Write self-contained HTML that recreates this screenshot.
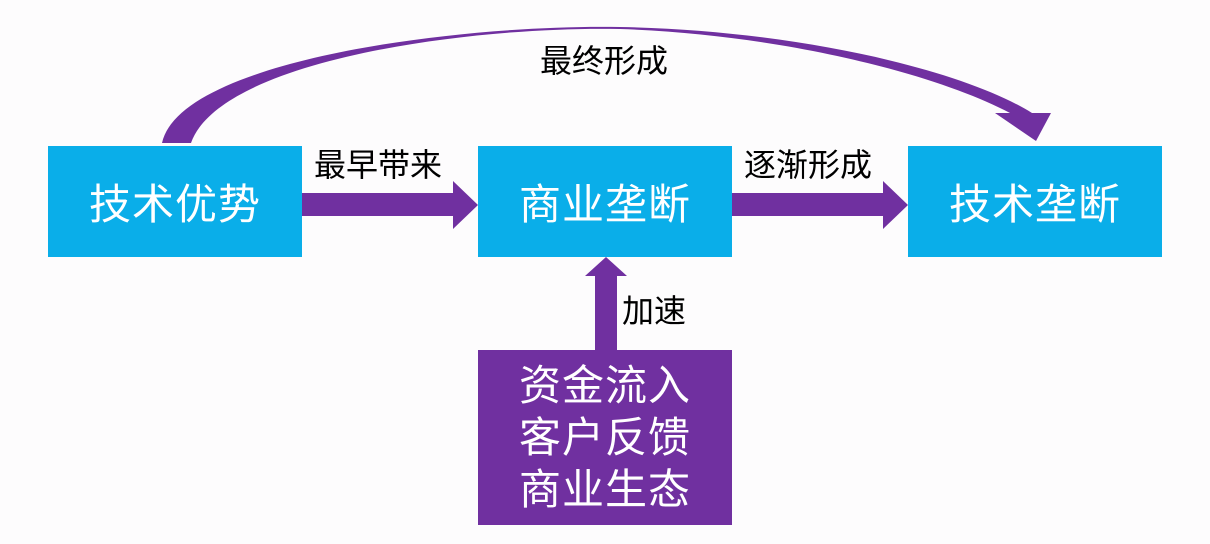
<!DOCTYPE html>
<html><head><meta charset="utf-8"><style>
body{margin:0;width:1210px;height:544px;background:#fdfcfd;overflow:hidden;position:relative;font-family:"Liberation Sans","Noto Sans CJK SC",sans-serif}
.b{position:absolute;background:#0aaee9;color:#fff;font-size:42px;display:flex;align-items:center;justify-content:center;letter-spacing:1px}
.l{position:absolute;font-size:32px;color:#000;white-space:nowrap}
</style></head><body>
<svg width="1210" height="544" style="position:absolute;left:0;top:0">
<path d="M162,143 C180,60 460,24 620,27 C790,30 960,68 1032,113 L1010,113 C940,76 790,35 620,29 C470,26 220,60 191,143 Z" fill="#7030a0"/>
<polygon points="995,113 1051,113 1036,141" fill="#7030a0"/>
<rect x="302" y="193" width="152" height="23" fill="#7030a0"/>
<polygon points="453,181 478,205 453,229" fill="#7030a0"/>
<rect x="732" y="193" width="152" height="23" fill="#7030a0"/>
<polygon points="883,181 908,205 883,229" fill="#7030a0"/>
<rect x="595" y="275" width="22" height="76" fill="#7030a0"/>
<polygon points="585,276 606,257 627,276" fill="#7030a0"/>
</svg>
<div class="b" style="left:48px;top:146px;width:254px;height:111px">技术优势</div>
<div class="b" style="left:478px;top:146px;width:254px;height:111px">商业垄断</div>
<div class="b" style="left:908px;top:146px;width:254px;height:111px">技术垄断</div>
<div class="b" style="left:478px;top:350px;width:254px;height:175px;background:#7030a0;flex-direction:column;line-height:52px">资金流入<br>客户反馈<br>商业生态</div>
<div class="l" style="left:540px;top:36px">最终形成</div>
<div class="l" style="left:314px;top:140px">最早带来</div>
<div class="l" style="left:744px;top:140px">逐渐形成</div>
<div class="l" style="left:622px;top:286px">加速</div>
</body></html>
